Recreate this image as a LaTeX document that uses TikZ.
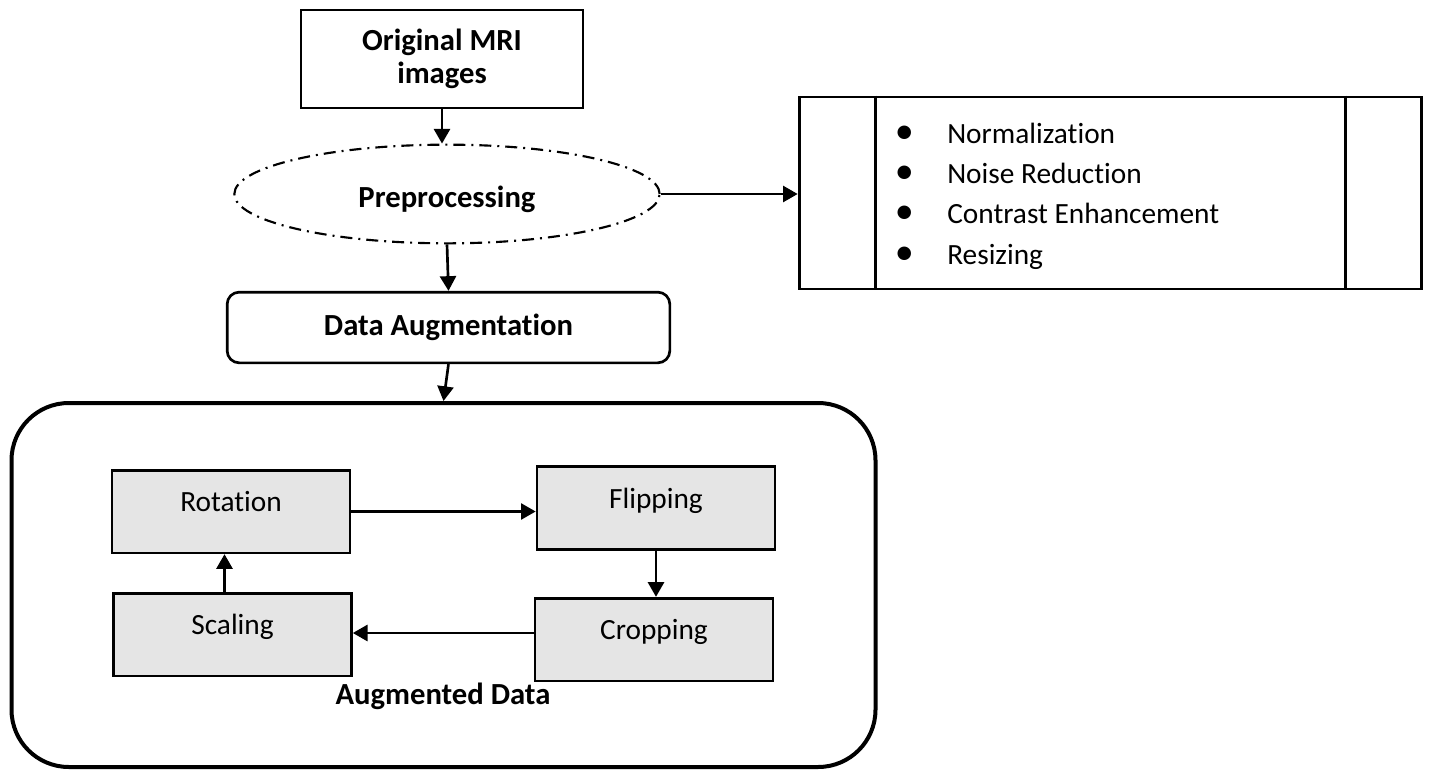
\documentclass[tikz,border=0pt]{standalone}
\usepackage{fontspec}
\setmainfont{Carlito}[Ligatures=NoCommon]
\usetikzlibrary{arrows.meta,shapes.geometric,calc}

\newcommand{\bigbullet}{\makebox[22.5pt][c]{\raisebox{-0.6pt}{\scalebox{1.3}{•}}}}

\begin{document}
\begin{tikzpicture}[x=0.75pt,y=-0.75pt,
  every node/.style={inner sep=0pt},
  boldtxt/.style={font=\fontsize{23}{23.5}\selectfont\bfseries},
  plaintxt/.style={font=\fontsize{22}{24}\selectfont},
  arr/.style={line width=2pt,-{Triangle[length=11pt,width=12pt]}},
  graybox/.style={draw, fill=gray!20, line width=2pt,
    minimum width=178.5pt, minimum height=62pt, plaintxt,
    text height=14pt, text depth=14pt},
  bulletline/.style={plaintxt, anchor=base west},
]
\useasboundingbox (0,0) rectangle (1429,771);

% outer container for the augmentation steps
\node[draw, line width=3pt, rounded corners=43pt,
      minimum width=648pt, minimum height=273pt] (big) at (443.5,585) {};
\node[boldtxt, anchor=base] (augtitle) at (443,704) {Augmented Data};

% pipeline
\node[draw, line width=2pt, minimum width=211.5pt, minimum height=73.5pt,
      font=\fontsize{23}{25}\selectfont\bfseries, align=center] (orig) at (442,59) {Original MRI\\images};
\node[ellipse, draw, line width=1.6pt,
      dash pattern=on 9pt off 4.5pt on 1.5pt off 4.5pt,
      minimum width=319pt, minimum height=74pt, boldtxt,
      text height=19.5pt, text depth=0pt] (pre) at (447,194) {Preprocessing};
\node[draw, line width=2pt, rounded corners=9pt,
      minimum width=332pt, minimum height=53pt, boldtxt] (da) at (448.5,327.5) {Data Augmentation};

% preprocessing steps
\node[draw, line width=2.2pt, minimum width=467pt, minimum height=144pt] (list) at (1110.5,193) {};
\draw[line width=2.2pt] ([xshift=58.5pt]list.north west) -- ([xshift=58.5pt]list.south west);
\draw[line width=2.2pt] ([xshift=-58.5pt]list.north east) -- ([xshift=-58.5pt]list.south east);
\node[bulletline] (l1) at (889,143) {\bigbullet\hspace{21pt}Normalization};
\node[bulletline] (l2) at (889,183) {\bigbullet\hspace{21pt}Noise Reduction};
\node[bulletline] (l3) at (889,223) {\bigbullet\hspace{21pt}Contrast Enhancement};
\node[bulletline] (l4) at (889,264) {\bigbullet\hspace{21pt}Resizing};

% augmentation steps
\node[graybox] (rot) at (231,511.5) {Rotation};
\node[graybox] (flip) at (656,508) {Flipping};
\node[graybox] (scal) at (232.5,634.5) {Scaling};
\node[graybox] (crop) at (654,639.5) {Cropping};

% connectors
\draw[arr] (orig.south) -- (orig.south |- pre.north);
\draw[arr] (pre.east) -- (pre.east -| list.west);
\draw[arr] (pre.south) -- (da.north);
\draw[arr] (da.south) -- (big.north);
\draw[arr] (rot.east) -- (rot.east -| flip.west);
\draw[arr] (flip.south) -- (flip.south |- crop.north);
\draw[arr] (crop.west |- 0,633) -- (scal.east |- 0,633);
\draw[arr] ([xshift=-6pt]scal.north) -- ([xshift=-6pt]scal.north |- rot.south);
\end{tikzpicture}
\end{document}
